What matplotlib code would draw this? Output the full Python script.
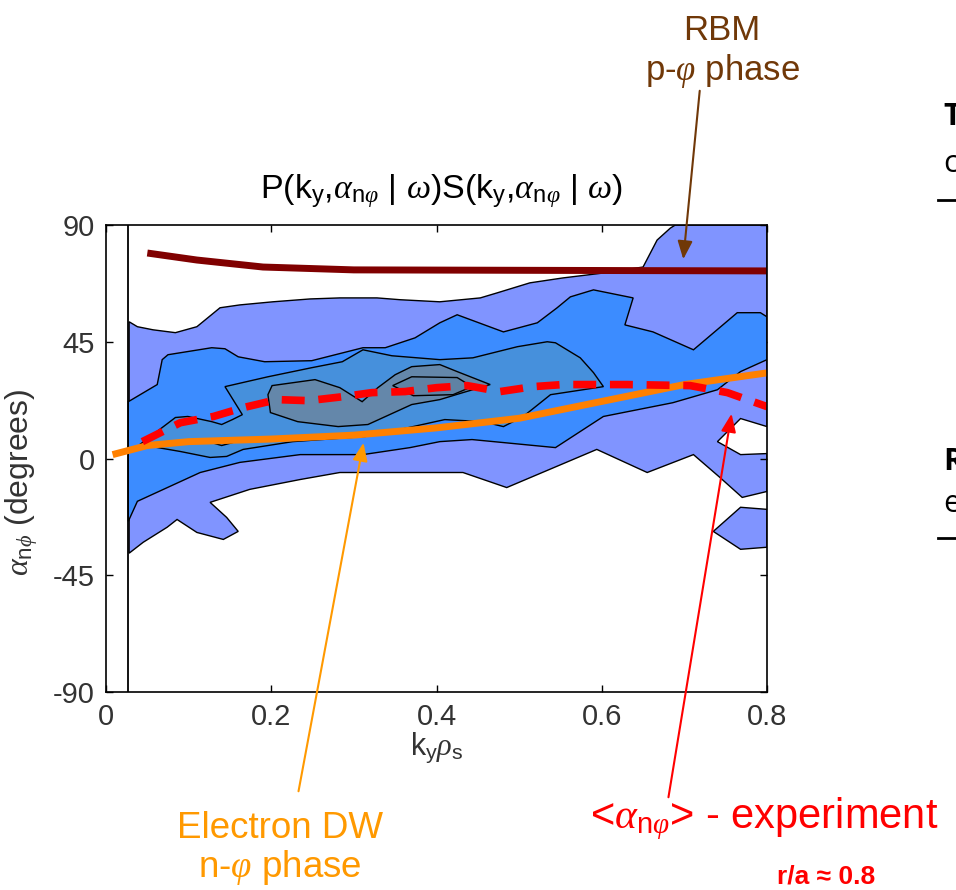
import matplotlib
matplotlib.use('Agg')
import matplotlib.pyplot as plt

plt.rcParams['font.family'] = ['Liberation Sans', 'DejaVu Sans']
plt.rcParams['mathtext.fontset'] = 'custom'
plt.rcParams['mathtext.rm'] = 'Liberation Sans'
plt.rcParams['mathtext.it'] = 'Liberation Serif:italic'
plt.rcParams['mathtext.bf'] = 'Liberation Sans:bold'
plt.rcParams['axes.unicode_minus'] = False

# contour levels, outer -> inner, as (k_y rho_s, alpha) outlines
level1_main = [(0.028, 52.7), (0.038, 50.8), (0.057, 49.6), (0.084, 48.5), (0.110, 50.8), (0.138, 58.1),
               (0.162, 59.2), (0.202, 60.4), (0.247, 61.5), (0.283, 61.9), (0.328, 61.9), (0.356, 61.2),
               (0.404, 60.4), (0.453, 61.9), (0.473, 63.8), (0.513, 67.7), (0.553, 69.6), (0.602, 71.5),
               (0.650, 73.8), (0.667, 84.2), (0.683, 88.8), (0.689, 90), (0.800, 90),
               (0.800, 12.3), (0.768, 15.4), (0.740, 6.5), (0.768, 1.5), (0.800, 1.9), (0.800, -12.7),
               (0.770, -15), (0.743, -7.3), (0.711, 1.5), (0.655, -5.4), (0.594, 3.5), (0.485, -11.2),
               (0.432, -5.4), (0.368, -5.4), (0.283, -5.4), (0.235, -8.1), (0.174, -11.9), (0.126, -16.9),
               (0.146, -22.7), (0.160, -28.1), (0.142, -31.2), (0.110, -28.5), (0.086, -23.5),
               (0.074, -26.5), (0.045, -32.3), (0.028, -36.5)]
level1_lobe = [(0.735, -28.1), (0.768, -18.8), (0.800, -19.6), (0.800, -34.2), (0.768, -35)]

level2 = [(0.027, 21.9), (0.062, 28.5), (0.068, 38.1), (0.075, 40), (0.128, 42.7), (0.144, 42.3),
          (0.160, 39.2), (0.192, 37.3), (0.249, 37.7), (0.311, 42.7), (0.338, 42.7), (0.374, 46.5),
          (0.404, 52.3), (0.425, 55.4), (0.481, 48.8), (0.522, 52.3), (0.546, 58.1), (0.562, 62.3),
          (0.590, 65), (0.638, 61.9), (0.628, 51.5), (0.662, 48.8), (0.711, 41.9), (0.764, 56.2),
          (0.792, 56.2), (0.800, 54.6), (0.800, 38.1), (0.768, 33.5), (0.740, 26.5), (0.686, 21.5),
          (0.602, 16.2), (0.544, 4.2), (0.479, 6.2), (0.443, 7.3), (0.404, 6.5), (0.368, 4.2),
          (0.311, 1.5), (0.235, 1.5), (0.162, -1.5), (0.114, -5.4), (0.038, -16.5), (0.027, -24.2)]

level3 = [(0.041, 5.4), (0.084, 15.8), (0.099, 16.2), (0.128, 14.2), (0.140, 13.1), (0.153, 15),
          (0.165, 16.9), (0.144, 27.7), (0.196, 31.5), (0.249, 35), (0.286, 37.3), (0.311, 41.9),
          (0.346, 39.6), (0.404, 38.1), (0.444, 38.8), (0.498, 43.1), (0.534, 45), (0.544, 44.6),
          (0.574, 38.8), (0.590, 33.1), (0.602, 27.7), (0.538, 24.6), (0.505, 16.2), (0.481, 12.3),
          (0.456, 14.2), (0.410, 15), (0.356, 11.2), (0.314, 8.5), (0.226, 6.5), (0.166, 3.5),
          (0.146, 0.8), (0.126, 0.4), (0.090, 2.7)]

level4 = [(0.201, 28.1), (0.253, 30.4), (0.283, 27.3), (0.310, 21.9), (0.329, 27.3), (0.350, 32.3),
          (0.370, 35.4), (0.404, 36.2), (0.425, 33.5), (0.465, 28.5), (0.432, 25.4), (0.404, 22.7),
          (0.370, 20.8), (0.317, 13.1), (0.281, 12.3), (0.232, 14.2), (0.199, 17.7), (0.196, 24.6)]
level4_small = [(0.127, 6.2), (0.140, 7.3), (0.154, 6.2), (0.140, 5.0)]

level5 = [(0.347, 28.1), (0.370, 31.5), (0.425, 31.2), (0.443, 27.7), (0.420, 24.6), (0.372, 24.2)]

level_colors = ['#8094ff', '#3c8cff', '#4690dc', '#6487aa', '#5f82a4']

# model / experiment curves
rbm_k = [0.05, 0.11, 0.19, 0.30, 0.80]
rbm_phase = [79.2, 76.5, 73.8, 72.7, 72.3]

dw_k = [0.008, 0.05, 0.1, 0.2, 0.3, 0.4, 0.5, 0.6, 0.7, 0.8]
dw_phase = [1.5, 5, 6.5, 7.5, 9, 11.8, 15.5, 22, 28.5, 33]

exp_k = [0.044, 0.09, 0.13, 0.166, 0.207, 0.245, 0.286, 0.322, 0.362, 0.40, 0.437, 0.477,
         0.517, 0.553, 0.631, 0.707, 0.752, 0.8]
exp_phase = [6.5, 13.8, 16.2, 19.6, 22.7, 22.3, 23.8, 25.4, 25.8, 27.3, 28.1, 25.8,
             27.7, 28.5, 28.5, 28.1, 25.4, 20]

W, H = 956, 890
fig = plt.figure(figsize=(W / 100, H / 100), dpi=100)
ax = fig.add_axes([106 / W, 1 - 692 / H, (767 - 106) / W, (692 - 225) / H])

shapes = [(level1_main, 0), (level1_lobe, 0), (level2, 1), (level3, 2),
          (level4, 3), (level4_small, 3), (level5, 4)]
for i, (poly, lev) in enumerate(shapes):
    xs = [p[0] for p in poly]
    ys = [p[1] for p in poly]
    ax.fill(xs, ys, facecolor=level_colors[lev], edgecolor='black', lw=1.0, zorder=1 + i)

ax.axvline(0.027, color='black', lw=1.3, zorder=10)

ax.plot(rbm_k, rbm_phase, color='#800000', lw=5, solid_capstyle='butt', zorder=11)
ax.plot(dw_k, dw_phase, color='#ff8000', lw=5, solid_capstyle='butt', zorder=11)
ax.plot(exp_k, exp_phase, color='#ff0000', lw=5.5, dashes=(3, 1.8),
        dash_capstyle='butt', zorder=12)

ax.set_xlim(0, 0.8)
ax.set_ylim(-90, 90)
ax.set_xticks([0, 0.2, 0.4, 0.6, 0.8])
ax.set_xticklabels(['0', '0.2', '0.4', '0.6', '0.8'])
ax.set_yticks([-90, -45, 0, 45, 90])
ax.tick_params(direction='in', length=5, width=1, top=True, right=True,
               labelsize=21, pad=8, colors='black', labelcolor='#333333')
for s in ax.spines.values():
    s.set_linewidth(1.2)
    s.set_zorder(20)

ax.set_xlabel(r'k$_\mathrm{y}\rho_\mathrm{s}$', fontsize=22, color='#333333')
ax.xaxis.set_label_coords(0.5, -0.082)
ax.set_ylabel(r'$\alpha_{\mathrm{n}\phi}$ (degrees)', fontsize=23, color='#333333')
ax.yaxis.set_label_coords(-0.1, 0.45)

fig.text(441 / W, 1 - 198 / H,
         r'P(k$_\mathrm{y}$,$\alpha_{\mathrm{n}\varphi}$ | $\omega$)S(k$_\mathrm{y}$,$\alpha_{\mathrm{n}\varphi}$ | $\omega$)',
         ha='center', va='baseline', fontsize=24.5)

# annotations
brown = '#703808'
fig.text(722 / W, 1 - 40 / H, 'RBM', ha='center', va='baseline', fontsize=25, color=brown)
fig.text(722 / W, 1 - 80 / H, r'p-$\varphi$ phase', ha='center', va='baseline', fontsize=25, color=brown)
ax.annotate('', xy=(683 / W, 1 - 262 / H), xycoords='figure fraction',
            xytext=(700 / W, 1 - 88 / H), textcoords='figure fraction',
            arrowprops=dict(arrowstyle='-|>,head_length=1.1,head_width=0.45', color=brown, lw=1.5),
            annotation_clip=False, zorder=30)

orange = '#ff9900'
fig.text(280 / W, 1 - 838 / H, 'Electron DW', ha='center', va='baseline', fontsize=26.5, color=orange)
fig.text(280 / W, 1 - 877 / H, r'n-$\varphi$ phase', ha='center', va='baseline', fontsize=26.5, color=orange)
ax.annotate('', xy=(364 / W, 1 - 440 / H), xycoords='figure fraction',
            xytext=(298 / W, 1 - 794 / H), textcoords='figure fraction',
            arrowprops=dict(arrowstyle='-|>,head_length=1.1,head_width=0.45', color=orange, lw=1.5),
            annotation_clip=False, zorder=30)

red = '#ff0000'
fig.text(590 / W, 1 - 828 / H, r'<$\alpha_{\mathrm{n}\varphi}$> - experiment',
         ha='left', va='baseline', fontsize=30, color=red)
fig.text(826 / W, 1 - 884 / H, 'r/a ≈ 0.8', ha='center', va='baseline',
         fontsize=19, fontweight='bold', color=red)
ax.annotate('', xy=(732 / W, 1 - 411 / H), xycoords='figure fraction',
            xytext=(668 / W, 1 - 800 / H), textcoords='figure fraction',
            arrowprops=dict(arrowstyle='-|>,head_length=1.1,head_width=0.45', color=red, lw=1.5),
            annotation_clip=False, zorder=30)

# slide text cut off at the right edge
fig.text(943 / W, 1 - 125 / H, 'T', fontsize=22, fontweight='bold', family='Open Sans', va='baseline')
fig.text(943 / W, 1 - 172 / H, 'c', fontsize=22, family='Open Sans', va='baseline')
fig.text(943 / W, 1 - 470 / H, 'R', fontsize=22, fontweight='bold', family='Open Sans', va='baseline')
fig.text(943 / W, 1 - 512 / H, 'e', fontsize=22, family='Open Sans', va='baseline')
for yy in (200, 538):
    fig.add_artist(plt.Line2D([938 / W, 1.0], [1 - yy / H, 1 - yy / H], color='black', lw=2))

fig.savefig('out.png', dpi=100)
